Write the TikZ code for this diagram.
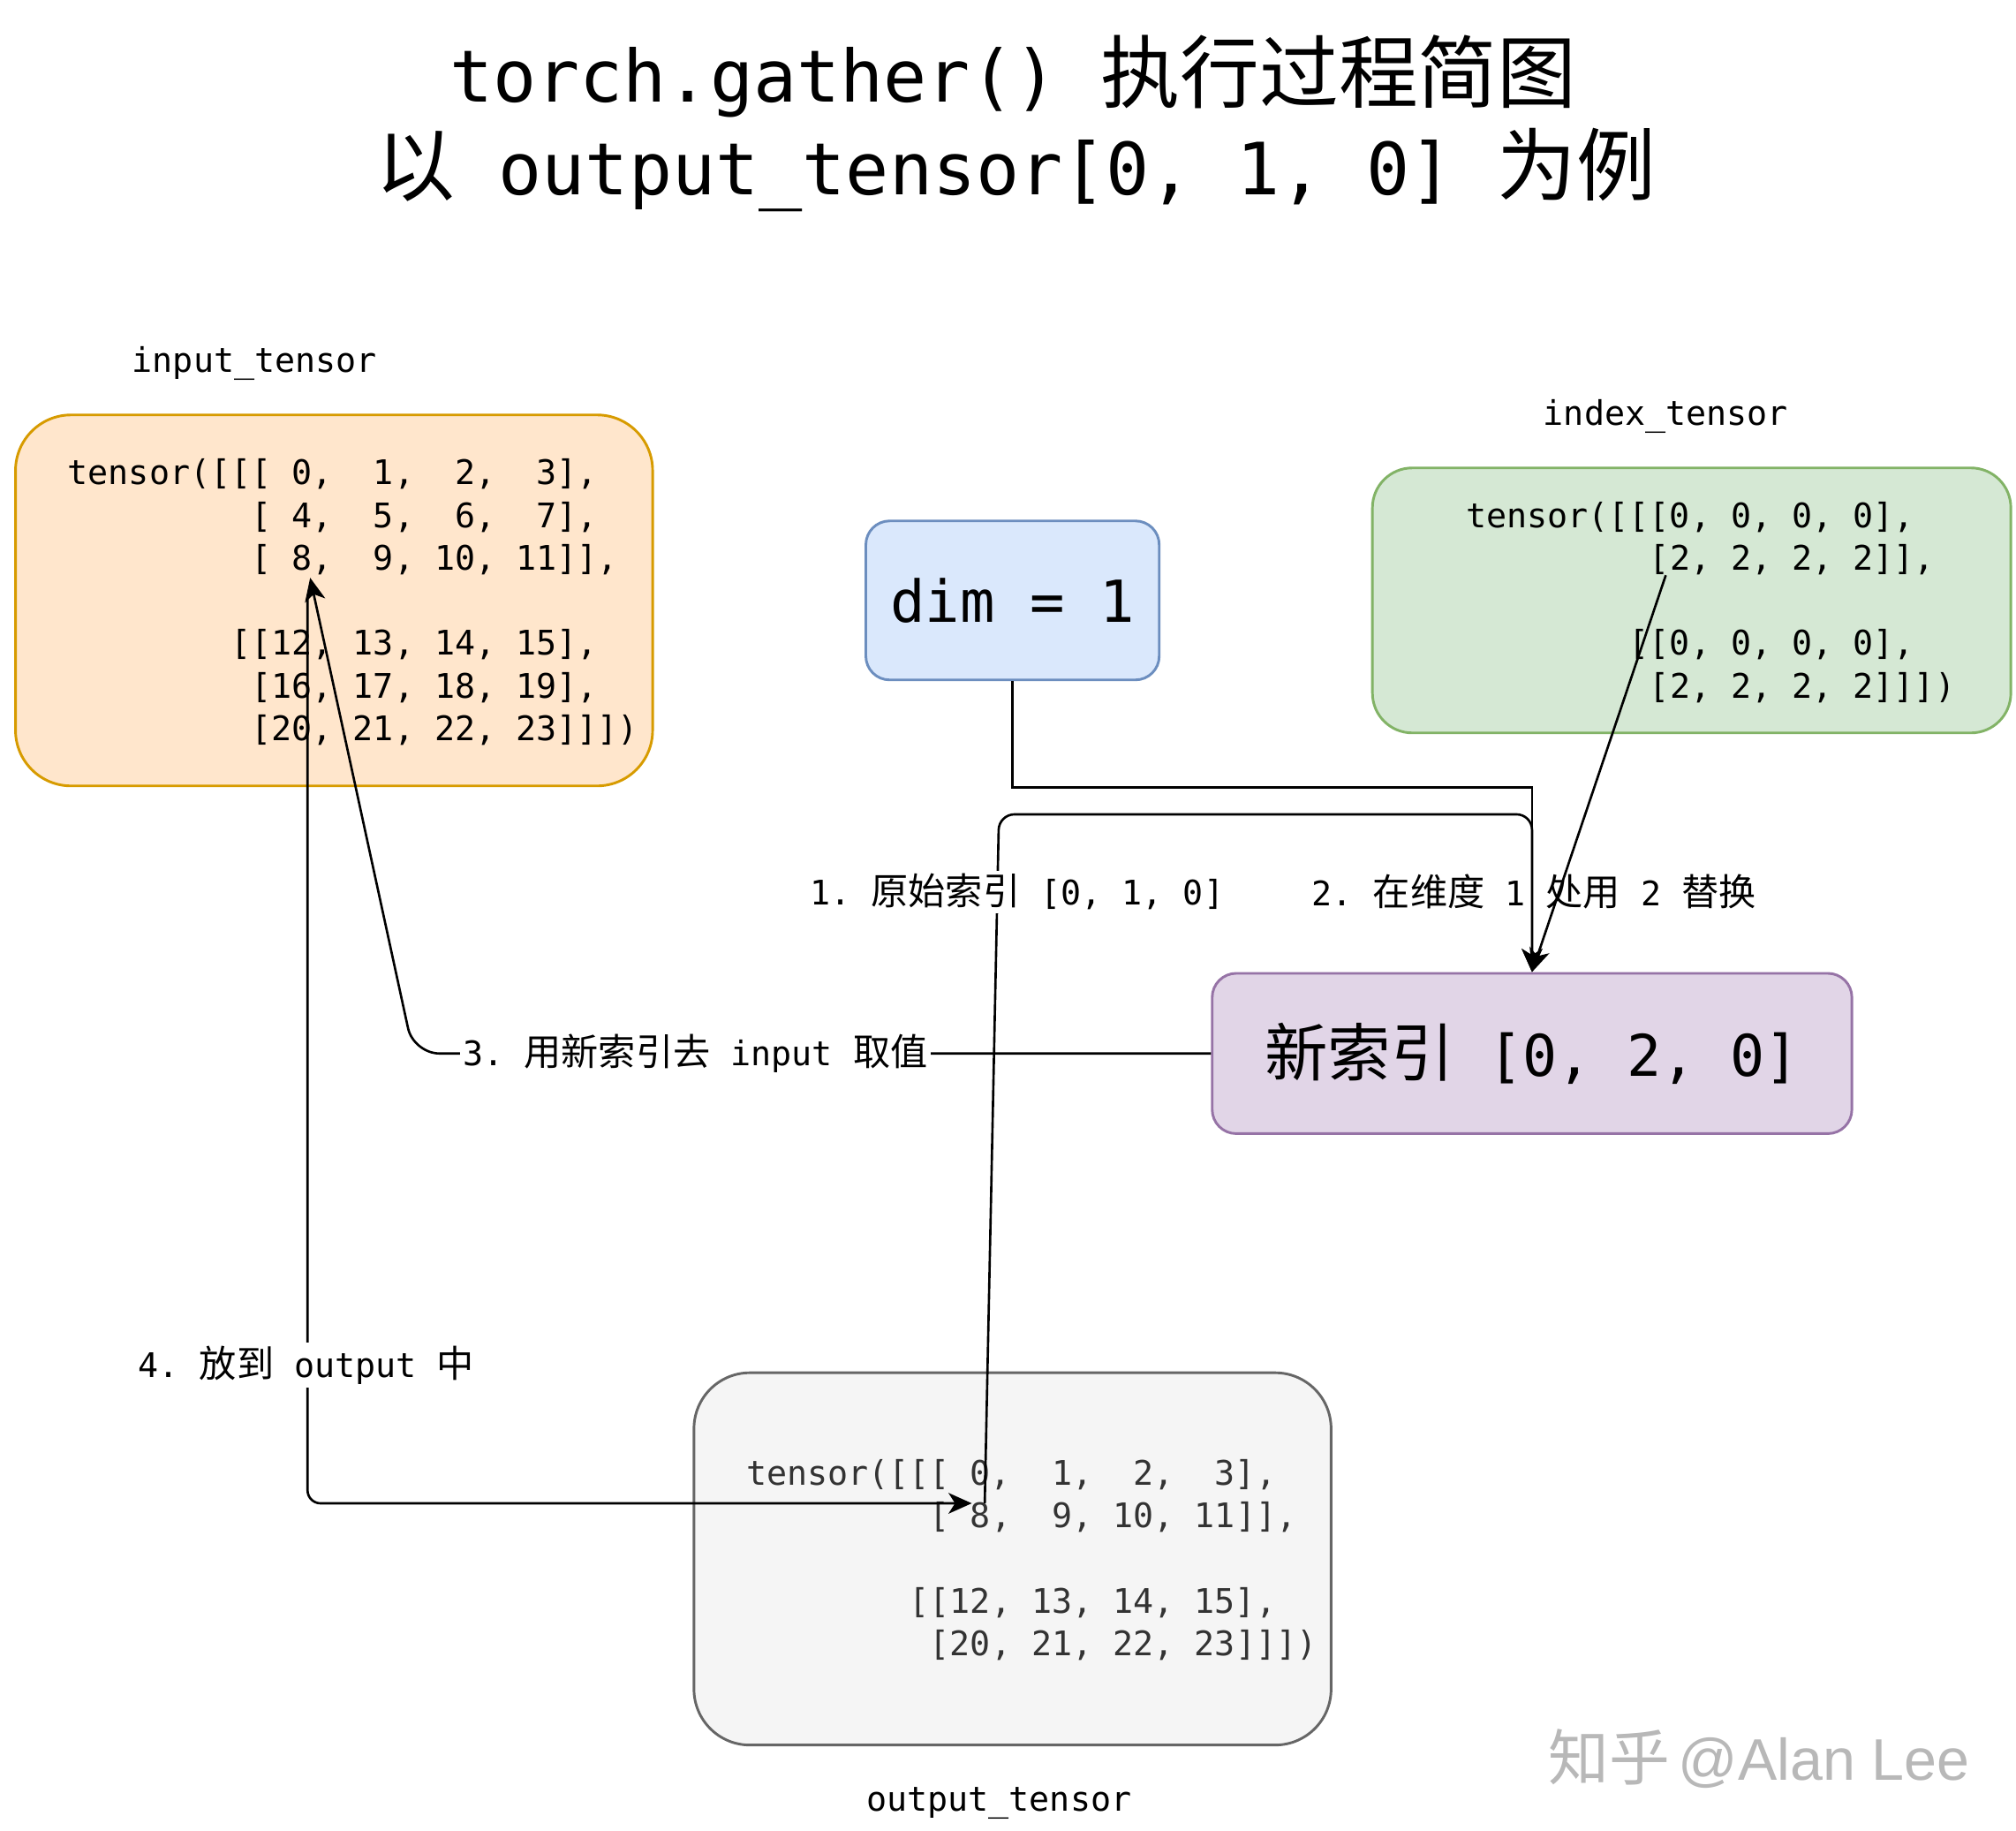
\documentclass[tikz,border=0pt]{standalone}
\usepackage{fontspec}
\setmonofont{DejaVu Sans Mono}
\newfontfamily\cjk[Scale=1.1]{Noto Sans CJK SC}
\newfontfamily\wmcjk{Noto Sans CJK SC}
\newfontfamily\wmlatin{Liberation Sans}
\newcommand\zh[1]{{\cjk #1}}
\usetikzlibrary{arrows.meta}
\definecolor{inF}{HTML}{FFE6CC}\definecolor{inD}{HTML}{D79B00}
\definecolor{idF}{HTML}{D5E8D4}\definecolor{idD}{HTML}{82B366}
\definecolor{dmF}{HTML}{DAE8FC}\definecolor{dmD}{HTML}{6C8EBF}
\definecolor{nwF}{HTML}{E1D5E7}\definecolor{nwD}{HTML}{9673A6}
\definecolor{otF}{HTML}{F5F5F5}\definecolor{otD}{HTML}{666666}
\definecolor{otT}{HTML}{333333}
\definecolor{wmC}{HTML}{B8B8B8}
\begin{document}
\begin{tikzpicture}[x=0.5pt,y=-0.5pt,
  box/.style={draw, line width=1pt, inner sep=0pt},
  code/.style={font=\ttfamily\fontsize{13.1}{16}\selectfont, anchor=base west, inner sep=0pt},
  capt/.style={font=\ttfamily\fontsize{13.1}{16}\selectfont, anchor=base, inner sep=0pt},
  lbl/.style={font=\ttfamily\fontsize{13.1}{16}\selectfont, fill=white, inner sep=1.2pt},
  title/.style={font=\ttfamily\fontsize{27.9}{34}\selectfont, anchor=base, inner sep=0pt},
  edge/.style={line width=0.9pt, -{Stealth[length=9pt,width=8pt,inset=2.5pt]}}]
\fill[white] (0,0) rectangle (1560,1416);
\useasboundingbox (0,0) rectangle (1560,1416);

% titles
\node[title] (t1) at (784,79) {torch.gather() \zh{执行过程简图}};
\node[title] (t2) at (786,151) {\zh{以} output\_tensor[0, 1, 0] \zh{为例}};

% boxes
\node[box, fill=inF, draw=inD, minimum width=246.5pt, minimum height=143.5pt, rounded corners=21.5pt] (input) at (258.5,464.5) {};
\node[box, fill=idF, draw=idD, minimum width=247pt, minimum height=102.5pt, rounded corners=15.4pt] (index) at (1309,464.5) {};
\node[box, fill=dmF, draw=dmD, minimum width=113.5pt, minimum height=61.5pt, rounded corners=9.2pt,
      font=\ttfamily\fontsize{22.4}{27}\selectfont] (dim) at (783.5,464.5) {dim = 1};
\node[box, fill=nwF, draw=nwD, minimum width=247.5pt, minimum height=62pt, rounded corners=9.3pt,
      font=\ttfamily\fontsize{22.2}{27}\selectfont] (new) at (1185.5,815) {\zh{新索引} [0, 2, 0]};
\node[box, fill=otF, draw=otD, minimum width=246.5pt, minimum height=144pt, rounded corners=21.6pt] (output) at (783.5,1206) {};

% captions
\node[capt] (inlbl) at (197,288) {input\_tensor};
\node[capt] (idxlbl) at (1289,329) {index\_tensor};
\node[capt] (outlbl) at (773,1401) {output\_tensor};

% input tensor text
\node[code] (i1) at (52,375) {tensor([[[~0,~~1,~~2,~~3],};
\node[code] (i2) at (52,408) {~~~~~~~~~[~4,~~5,~~6,~~7],};
\node[code] (i3) at (52,441) {~~~~~~~~~[~8,~~9,~10,~11]],};
\node[code] (i4) at (52,507) {~~~~~~~~[[12,~13,~14,~15],};
\node[code] (i5) at (52,540) {~~~~~~~~~[16,~17,~18,~19],};
\node[code] (i6) at (52,573) {~~~~~~~~~[20,~21,~22,~23]]])};

% index tensor text
\node[code] (x1) at (1134,408) {tensor([[[0,~0,~0,~0],};
\node[code] (x2) at (1134,441) {~~~~~~~~~[2,~2,~2,~2]],};
\node[code] (x3) at (1134,507) {~~~~~~~~[[0,~0,~0,~0],};
\node[code] (x4) at (1134,540) {~~~~~~~~~[2,~2,~2,~2]]])};

% output tensor text
\node[code, text=otT] (o1) at (577,1149) {tensor([[[~0,~~1,~~2,~~3],};
\node[code, text=otT] (o2) at (577,1182) {~~~~~~~~~[~8,~~9,~10,~11]],};
\node[code, text=otT] (o3) at (577,1248) {~~~~~~~~[[12,~13,~14,~15],};
\node[code, text=otT] (o4) at (577,1281) {~~~~~~~~~[20,~21,~22,~23]]])};

% anchor points
\coordinate (in8) at (240,447);
\coordinate (in8s) at (238,462);
\coordinate (idx2) at (1289,445);
\coordinate (out0) at (762,1163);
\coordinate (out8) at (752,1163);

% label 2 (no background: lines run through it)
\node[lbl, fill=none] (l2) at (1187,690) {2. \zh{在维度} 1 \zh{处用} 2 \zh{替换}};

% connectors
\draw[edge] (dim.south) -- ++(0,82) -| (new.north);
\draw[edge, rounded corners=6pt] (out0) -- (773,630) -- (1185.5,630) -- (new.north);
\draw[edge, rounded corners=10pt] (new.west) -- (320,815) -- (in8);
\draw[edge, rounded corners=5pt] (in8s) -- (238,1163) -- (out8);
\draw[edge] (idx2) -- (new.north);

% labels with white background
\node[lbl] (l1) at (787,690) {1. \zh{原始索引} [0, 1, 0]};
\node[lbl] (l3) at (538,815) {3. \zh{用新索引去} input \zh{取值}};
\node[lbl] (l4) at (237,1056) {4. \zh{放到} output \zh{中}};

% watermark
\node[anchor=base, inner sep=0pt, text=wmC] (wm) at (1361,1377)
  {{\wmcjk\fontsize{23.5}{28}\selectfont 知乎} {\wmlatin\fontsize{22.7}{28}\selectfont @Alan Lee}};
\end{tikzpicture}
\end{document}
